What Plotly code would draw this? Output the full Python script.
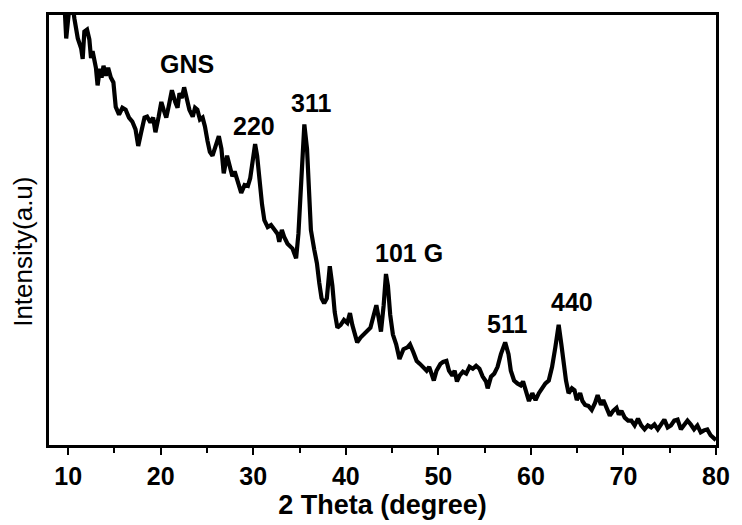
import plotly.graph_objects as go

two_theta = [
    9.50, 9.79, 10.15, 10.40, 10.68, 11.04, 11.40, 11.57, 11.75, 12.04, 12.29, 12.47, 12.64,
    13.00, 13.18, 13.43, 13.61, 13.82, 14.07, 14.32, 14.61, 14.89, 15.14, 15.50, 15.86, 16.21,
    16.57, 16.93, 17.28, 17.57, 17.89, 18.25, 18.53, 18.89, 19.18, 19.43, 19.78, 20.07, 20.32,
    20.60, 20.85, 21.21, 21.57, 21.82, 22.03, 22.28, 22.53, 22.82, 23.10, 23.46, 23.71, 23.96,
    24.24, 24.53, 24.78, 25.06, 25.31, 25.60, 25.96, 26.28, 26.56, 26.81, 27.17, 27.46, 27.74,
    27.99, 28.35, 28.70, 29.06, 29.42, 29.67, 29.95, 30.20, 30.42, 30.67, 30.95, 31.20, 31.56,
    31.92, 32.27, 32.63, 32.81, 33.09, 33.34, 33.70, 34.24, 34.63, 34.88, 35.16, 35.34, 35.52,
    35.81, 35.99, 36.23, 36.59, 36.88, 37.13, 37.38, 37.66, 37.95, 38.27, 38.55, 38.80, 39.09,
    39.45, 39.80, 40.16, 40.45, 40.70, 40.95, 41.23, 41.59, 41.94, 42.30, 42.66, 43.02, 43.30,
    43.55, 43.80, 44.09, 44.34, 44.55, 44.80, 45.09, 45.44, 45.80, 46.23, 46.66, 46.94, 47.30,
    47.66, 48.01, 48.37, 48.73, 49.01, 49.26, 49.51, 49.80, 50.22, 50.51, 50.87, 51.15, 51.51,
    51.76, 52.01, 52.29, 52.65, 53.01, 53.37, 53.72, 54.08, 54.44, 54.79, 55.15, 55.33, 55.69,
    56.04, 56.40, 56.76, 57.22, 57.58, 57.83, 58.18, 58.54, 58.90, 59.15, 59.43, 59.79, 60.15,
    60.50, 60.86, 61.22, 61.57, 61.93, 62.29, 62.64, 63.00, 63.29, 63.54, 63.79, 64.07, 64.43,
    64.71, 64.96, 65.32, 65.57, 65.86, 66.21, 66.57, 66.93, 67.21, 67.57, 67.82, 68.18, 68.53,
    68.89, 69.25, 69.50, 69.78, 70.14, 70.50, 70.85, 71.21, 71.57, 71.92, 72.28, 72.64, 73.00,
    73.35, 73.71, 74.06, 74.42, 74.78, 75.13, 75.49, 75.85, 76.21, 76.56, 76.92, 77.28, 77.63,
    77.99, 78.35, 78.70, 79.06, 79.42, 79.78, 80.00,
]

intensity = [
    470, 416, 450, 455, 436, 416, 406, 395, 423, 425, 415, 396, 403,
    386, 368, 385, 376, 388, 378, 386, 376, 371, 346, 338, 345, 343,
    335, 331, 323, 306, 320, 335, 336, 330, 335, 320, 336, 351, 343,
    335, 346, 363, 351, 345, 360, 355, 366, 355, 343, 336, 345, 343,
    333, 335, 326, 311, 300, 296, 308, 316, 303, 278, 296, 286, 275,
    280, 270, 258, 266, 265, 273, 296, 308, 296, 266, 246, 230, 223,
    225, 220, 216, 208, 220, 213, 206, 201, 191, 216, 260, 303, 328,
    303, 260, 220, 200, 186, 166, 150, 145, 150, 183, 163, 136, 120,
    123, 128, 125, 135, 123, 113, 105, 110, 113, 116, 120, 133, 143,
    130, 116, 143, 175, 163, 133, 113, 103, 88, 98, 100, 103, 95,
    86, 83, 80, 76, 80, 71, 66, 76, 83, 85, 86, 76, 71,
    76, 65, 71, 75, 73, 80, 78, 81, 78, 70, 65, 58, 70,
    73, 80, 93, 105, 93, 76, 66, 63, 61, 65, 56, 45, 53,
    46, 53, 58, 63, 66, 80, 100, 123, 103, 80, 66, 53, 58,
    56, 46, 53, 45, 41, 40, 36, 43, 51, 41, 46, 38, 30,
    35, 38, 31, 35, 28, 25, 25, 20, 27, 20, 16, 20, 18,
    21, 16, 21, 26, 18, 20, 25, 26, 16, 21, 25, 21, 16,
    20, 13, 15, 16, 10, 6, 5,
]

peak_labels = ["GNS", "220", "311", "101 G", "511", "440"]
label_x = [22.8, 30.1, 36.2, 46.8, 57.4, 64.4]
label_y = [390, 326, 350, 196, 124, 146]

x_ticks = [10, 20, 30, 40, 50, 60, 70, 80]

FONT = "Liberation Sans, Arial, sans-serif"

fig = go.Figure()
fig.add_trace(go.Scatter(
    x=two_theta, y=intensity, mode="lines",
    line=dict(color="black", width=4.2),
    showlegend=False, hoverinfo="skip",
))

for t, x, y in zip(peak_labels, label_x, label_y):
    fig.add_annotation(x=x, y=y, text="<b>%s</b>" % t, showarrow=False,
                       font=dict(family=FONT, size=25, color="black"))

# y-axis title placed as in the reference (slightly below the axis centre)
fig.add_annotation(xref="paper", yref="paper", x=-0.04, y=0.45, xanchor="center",
                   yanchor="middle", textangle=-90, showarrow=False,
                   text="Intensity(a.u)",
                   font=dict(family=FONT, size=26, color="black"))

fig.update_layout(
    width=742, height=525,
    margin=dict(l=49, r=19, t=13, b=72),
    paper_bgcolor="white", plot_bgcolor="white",
    xaxis=dict(
        range=[7.93, 80], tickvals=x_ticks, ticktext=["<b>%d</b>" % v for v in x_ticks],
        ticks="outside", ticklen=7, tickwidth=2, tickcolor="black",
        minor=dict(tickvals=[15, 25, 35, 45, 55, 65, 75], ticks="outside", ticklen=5,
                   tickwidth=2, tickcolor="black"),
        showline=True, linewidth=2.5, linecolor="black", mirror=True,
        showgrid=False, zeroline=False,
        tickfont=dict(family=FONT, size=25, color="black"),
        title=dict(text="<b>2 Theta (degree)</b>", standoff=4,
                   font=dict(family=FONT, size=27, color="black")),
    ),
    yaxis=dict(
        range=[0, 440], showticklabels=False, ticks="",
        showline=True, linewidth=2.5, linecolor="black", mirror=True,
        showgrid=False, zeroline=False,
    ),
)

fig.write_html("out.html")
